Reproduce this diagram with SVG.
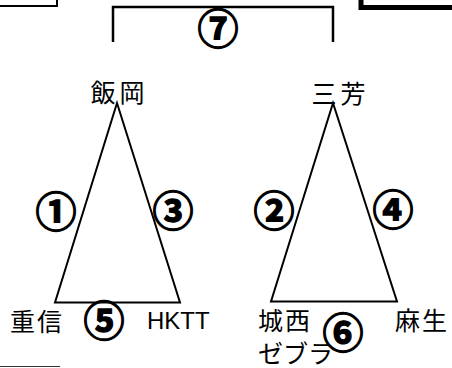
<svg xmlns="http://www.w3.org/2000/svg" width="452" height="368" viewBox="0 0 452 368">
<style>
.ln{fill:none;stroke:#000;stroke-width:2;stroke-linejoin:miter}
.lb{font-family:"Noto Sans CJK JP","Liberation Sans",sans-serif;font-size:25px;fill:#000;text-anchor:middle;dominant-baseline:central}
.num{font-family:"Noto Sans CJK JP","DejaVu Sans",sans-serif;font-weight:bold;font-size:41px;fill:#000;stroke:#000;stroke-width:1.3;text-anchor:middle;dominant-baseline:central}
.lat{font-family:"Liberation Sans",Arial,sans-serif;font-size:24px;fill:#000}
</style>
<rect width="452" height="368" fill="#fff"/>
<g id="frames">
<path class="ln" d="M0,6 H57 V0"/>
<path d="M361,0 V7.5 H452" fill="none" stroke="#000" stroke-width="5"/>
<path d="M113,42 V7 H333 V42" fill="none" stroke="#000" stroke-width="2.5"/>
<line x1="0" y1="366.5" x2="60" y2="366.5" stroke="#333" stroke-width="1"/>
</g>
<g id="connectors">
<polygon class="ln" points="117,103 55,302.5 180,302.5"/>
<polygon class="ln" points="333,103 271,301.5 397,301.5"/>
</g>
<g id="n-iioka"><text class="lb" x="119.5" y="91" letter-spacing="4">飯岡</text></g>
<g id="n-sanpo"><text class="lb" x="340.5" y="91.5" letter-spacing="4">三芳</text></g>
<g id="n-shigenobu"><text class="lb" x="37" y="319.5" letter-spacing="2">重信</text></g>
<g id="n-hktt"><text class="lat" x="147" y="329">HKTT</text></g>
<g id="n-josai"><text class="lb" x="285" y="318.5" letter-spacing="2">城西</text><text class="lb" x="295.5" y="351.5">ゼブラ</text></g>
<g id="n-aso"><text class="lb" x="422" y="319" letter-spacing="2">麻生</text></g>
<g id="labels">
<text class="num" x="56" y="209">①</text>
<text class="num" x="274" y="208">②</text>
<text class="num" x="173" y="208">③</text>
<text class="num" x="393" y="207">④</text>
<text class="num" x="104" y="318">⑤</text>
<text class="num" x="343" y="330">⑥</text>
<text class="num" x="218" y="26" font-size="36">⑦</text>
</g>
</svg>
